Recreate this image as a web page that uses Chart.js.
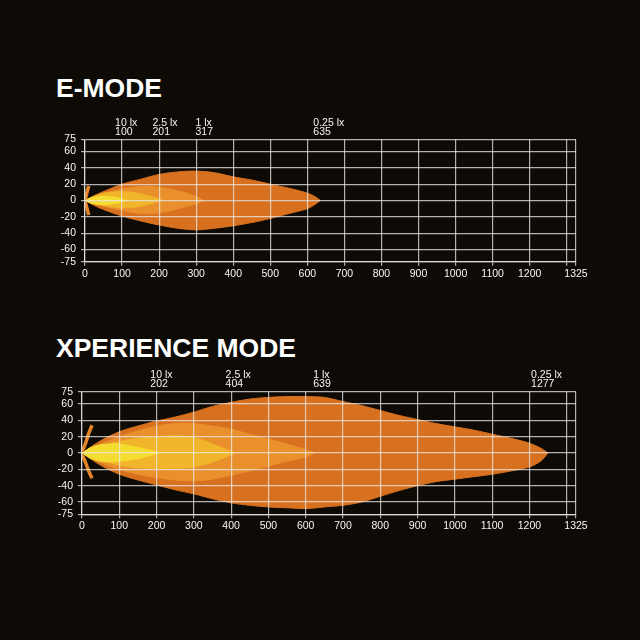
<!DOCTYPE html>
<html lang="en">
<head>
<meta charset="UTF-8" />
<title>E-Mode / Xperience Mode</title>
<script src="https://cdn.jsdelivr.net/npm/chart.js"></script>
<style>
  html, body { margin: 0; padding: 0; background: #0e0b07; }
  #page { position: relative; width: 640px; height: 640px; overflow: hidden; }
  .title { position: absolute; left: 56px; margin: 0; color: #fff; font: bold 26.5px "Liberation Sans", Arial, sans-serif; line-height: 1; white-space: nowrap; }
  .box { position: absolute; left: 0; width: 640px; height: 180px; }
</style>
</head>
<body>
<div id="page">
  <h2 class="title" style="top:74.6px">E-MODE</h2>
  <div class="box" style="top:110px"><canvas id="eChart" width="640" height="180"></canvas></div>
  <h2 class="title" style="top:334.6px">XPERIENCE MODE</h2>
  <div class="box" style="top:362px"><canvas id="xChart" width="640" height="180"></canvas></div>
</div>

<script>
  // axis ticks
  const xTicks = [0, 100, 200, 300, 400, 500, 600, 700, 800, 900, 1000, 1100, 1200, 1300, 1325];
  const yTicks = [75, 60, 40, 20, 0, -20, -40, -60, -75];

  // lux labels above the plots
  const luxLevels = ['10', '2.5', '1', '0.25'];
  const eLuxDist = [100, 201, 317, 635];
  const xLuxDist = [202, 404, 639, 1277];

  // E-MODE beam outlines (distance m, left/right spread m)
  const e10Dist = [0, 15, 30, 50, 75, 100, 110];
  const e10Up   = [0, 3, 4.5, 5, 4.5, 2, 0];
  const e10Low  = [0, -3, -4.5, -5, -4, -1.5, 0];

  const e25Dist = [0, 25, 50, 100, 150, 200, 210];
  const e25Up   = [0, 5, 9, 11, 8, 2, 0];
  const e25Low  = [0, -4, -6, -9, -7, -1, 0];

  const e1Dist = [0, 25, 50, 100, 150, 200, 250, 300, 320];
  const e1Up   = [0, 4, 8, 14, 17, 16, 12, 5, 0];
  const e1Low  = [0, -4, -7, -12, -16, -15, -10, -4, 0];

  const e025Dist = [0, 25, 50, 100, 150, 200, 250, 300, 350, 400, 450, 500, 550, 600, 620, 635];
  const e025Up   = [0, 6, 11, 20, 26, 32, 35, 36, 34, 29, 25, 20, 15, 9, 5, 0];
  const e025Low  = [0, -6, -11, -19, -25, -30, -34, -36, -34, -31, -27, -22, -16, -10, -5, 0];

  const ePetalDist = [1, 5, 10];
  const ePetalUp   = [2, 9, 18];
  const ePetalLow  = [-2, -9, -18];

  // XPERIENCE MODE beam outlines
  const x10Dist = [0, 25, 50, 75, 100, 150, 200, 205];
  const x10Up   = [0, 7, 10, 11, 11, 7, 1, 0];
  const x10Low  = [0, -7, -10, -11, -10, -7, -1, 0];

  const x25Dist = [0, 50, 100, 150, 200, 250, 300, 350, 400, 410];
  const x25Up   = [0, 8.5, 14, 18, 20, 21, 19, 11, 2, 0];
  const x25Low  = [0, -8, -15, -18, -19, -19, -17, -11, -2, 0];

  const x1Dist = [0, 50, 100, 150, 200, 250, 300, 350, 400, 450, 500, 550, 600, 625];
  const x1Up   = [0, 11, 20, 27, 33, 36, 36, 33, 29, 23, 17, 11, 4, 0];
  const x1Low  = [0, -12, -20, -26, -30, -33, -34, -32, -27, -22, -16, -10, -5, 0];

  const x025Dist = [0, 50, 100, 150, 200, 250, 300, 350, 400, 450, 500, 550, 600, 650, 700, 750, 800, 850, 900, 950, 1000, 1050, 1100, 1150, 1200, 1230, 1250];
  const x025Up   = [0, 15, 26, 33, 39, 44, 50, 57, 62, 66, 68, 69, 69, 68, 63, 58, 52, 46, 41, 36, 32, 28, 23, 18, 12, 6, 0];
  const x025Low  = [0, -15, -26, -33, -39, -45, -50, -56, -61, -64, -66, -67, -68, -66, -64, -60, -53, -46, -40, -35, -32, -29, -26, -22, -17, -10, 0];

  const xPetalDist = [0, 8, 18, 27];
  const xPetalUp   = [2, 10, 24, 34];
  const xPetalLow  = [-2, -10, -22, -31];

  const beamColors = ['#f5dc30', '#f0b52a', '#e9902c', '#d8711f']; // 10, 2.5, 1, 0.25 lx
  const petalColor = '#e38428';
  const gridColor = 'rgba(235,235,235,0.75)';

  function pts(dist, vals) {
    return dist.map((d, i) => ({x: d, y: vals[i]}));
  }

  function half(dist, vals, color) {
    return {
      data: pts(dist, vals),
      backgroundColor: color,
      borderColor: color,
      borderWidth: 1,
      fill: 'origin',
      pointRadius: 0,
      tension: 0.3
    };
  }

  function petal(dist, vals) {
    return {
      data: pts(dist, vals),
      borderColor: petalColor,
      borderWidth: 3.5,
      fill: false,
      pointRadius: 0,
      tension: 0.4
    };
  }

  // draws "10 lx / 100" labels above the grid
  const luxLabels = {
    id: 'luxLabels',
    afterDraw(chart, args, opts) {
      const {ctx, chartArea} = chart;
      const xs = chart.scales.x;
      ctx.save();
      ctx.font = '10.5px "Liberation Sans", Arial, sans-serif';
      ctx.fillStyle = '#f4f4f4';
      ctx.textAlign = 'left';
      opts.lux.forEach((lx, i) => {
        const l1 = lx + ' lx';
        const l2 = String(opts.dist[i]);
        const w = Math.max(ctx.measureText(l1).width, ctx.measureText(l2).width);
        const x = Math.min(xs.getPixelForValue(opts.dist[i]) - 7, chartArea.right - 14 - w);
        ctx.fillText(l1, x, chartArea.top - 13.5);
        ctx.fillText(l2, x, chartArea.top - 4.5);
      });
      ctx.restore();
    }
  };

  function makeChart(id, beams, petals, luxDist, lay) {
    const datasets = [petal(petals.dist, petals.up), petal(petals.dist, petals.low)];
    beams.forEach((b, i) => {
      datasets.push(half(b[0], b[1], beamColors[i]));
      datasets.push(half(b[0], b[2], beamColors[i]));
    });
    const tickFont = {family: '"Liberation Sans", Arial, sans-serif', size: 10.5};
    return new Chart(document.getElementById(id), {
      type: 'line',
      data: {datasets: datasets},
      plugins: [luxLabels],
      options: {
        responsive: false,
        animation: false,
        layout: {padding: {top: lay.top, right: 64, left: 0, bottom: 0}},
        plugins: {
          legend: {display: false},
          tooltip: {enabled: false},
          luxLabels: {lux: luxLevels, dist: luxDist}
        },
        scales: {
          x: {
            type: 'linear',
            min: 0,
            max: 1325,
            afterBuildTicks: s => { s.ticks = xTicks.map(v => ({value: v})); },
            afterFit: s => { s.height = lay.xh; },
            grid: {color: gridColor, lineWidth: 1.2, tickLength: 4, z: 1},
            border: {color: gridColor, width: 1.2, z: 1},
            ticks: {
              color: '#f6f6f6', font: tickFont, padding: 2,
              autoSkip: false, maxRotation: 0,
              callback: v => v === 1300 ? '' : v
            }
          },
          y: {
            type: 'linear',
            min: -75,
            max: 75,
            afterBuildTicks: s => { s.ticks = yTicks.map(v => ({value: v})); },
            afterFit: s => { s.width = lay.yw; },
            grid: {color: gridColor, lineWidth: 1.2, tickLength: 4, z: 1},
            border: {color: gridColor, width: 1.2, z: 1},
            ticks: {color: '#f6f6f6', font: tickFont, padding: 5, autoSkip: false}
          }
        }
      }
    });
  }

  makeChart('eChart',
    [[e10Dist, e10Up, e10Low], [e25Dist, e25Up, e25Low], [e1Dist, e1Up, e1Low], [e025Dist, e025Up, e025Low]],
    {dist: ePetalDist, up: ePetalUp, low: ePetalLow},
    eLuxDist,
    {top: 29.3, xh: 28.3, yw: 85});

  makeChart('xChart',
    [[x10Dist, x10Up, x10Low], [x25Dist, x25Up, x25Low], [x1Dist, x1Up, x1Low], [x025Dist, x025Up, x025Low]],
    {dist: xPetalDist, up: xPetalUp, low: xPetalLow},
    xLuxDist,
    {top: 29.7, xh: 27.7, yw: 82});
</script>
</body>
</html>
